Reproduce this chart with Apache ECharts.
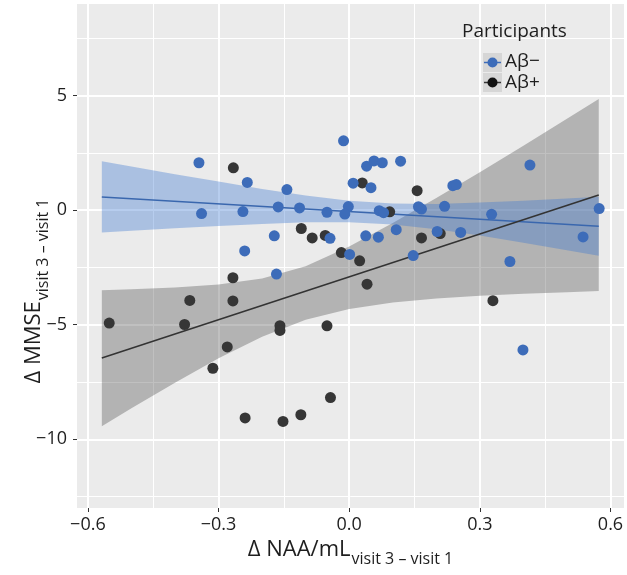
<!DOCTYPE html>
<html><head><meta charset="utf-8">
<script src="https://cdn.jsdelivr.net/npm/echarts@6/dist/echarts.min.js"></script>
<style>html,body{margin:0;padding:0;background:#fff}#c{width:627px;height:575px}</style>
</head><body><div id="c"></div>
<script>
// Aβ− participants (blue)
const negX = [-0.345,-0.339,-0.234,-0.244,-0.240,-0.172,-0.163,-0.167,-0.143,-0.114,-0.051,-0.044,-0.013,-0.002,-0.010,0.001,0.009,0.040,0.057,0.076,0.050,0.038,0.067,0.069,0.079,0.118,0.108,0.147,0.159,0.166,0.202,0.219,0.238,0.246,0.256,0.327,0.369,0.399,0.415,0.537,0.574];
const negY = [2.07,-0.15,1.21,-0.06,-1.78,-1.12,0.14,-2.79,0.90,0.10,-0.09,-1.23,3.03,0.16,-0.17,-1.93,1.18,1.92,2.15,2.07,0.98,-1.12,-1.18,-0.02,-0.11,2.14,-0.85,-1.98,0.15,0.05,-0.93,0.17,1.07,1.12,-0.97,-0.18,-2.24,-6.10,1.97,-1.17,0.07];
// Aβ+ participants (black)
const posX = [-0.551,-0.378,-0.366,-0.313,-0.280,-0.266,-0.267,-0.267,-0.239,-0.159,-0.159,-0.152,-0.110,-0.111,-0.085,-0.055,-0.051,-0.043,-0.018,0.024,0.030,0.041,0.093,0.156,0.166,0.209,0.330];
const posY = [-4.93,-4.99,-3.94,-6.90,-5.97,1.85,-2.95,-3.96,-9.07,-5.04,-5.25,-9.22,-0.80,-8.93,-1.21,-1.10,-5.05,-8.18,-1.85,-2.21,1.19,-3.23,-0.07,0.85,-1.21,-1.02,-3.95];

// fitted lines (end points) and confidence bands
const fitX = [-0.568, 0.573];
const negFitY = [0.58, -0.70];
const posFitY = [-6.45, 0.66];
const bandX = [-0.568,-0.5,-0.4,-0.3,-0.2,-0.1,0,0.1,0.2,0.3,0.4,0.5,0.573];
const negUpper = [2.14,1.91,1.57,1.25,0.93,0.64,0.41,0.29,0.27,0.33,0.41,0.51,0.59];
const negLower = [-0.97,-0.90,-0.79,-0.69,-0.60,-0.53,-0.53,-0.62,-0.83,-1.11,-1.42,-1.75,-1.99];
const posUpper = [-3.50,-3.45,-3.37,-3.24,-2.98,-2.45,-1.58,-0.56,0.53,1.66,2.81,3.99,4.85];
const posLower = [-9.43,-8.65,-7.53,-6.46,-5.52,-4.78,-4.31,-4.03,-3.86,-3.74,-3.65,-3.58,-3.53];

// ticks
const xTicks = [-0.6,-0.3,0,0.3,0.6];
const xMinor = [-0.45,-0.15,0.15,0.45];
const yTicks = [-10,-5,0,5];
const yMinor = [-12.5,-7.5,-2.5,2.5,7.5];

const legendTitle = 'Participants';
const groupNames = ['Aβ−','Aβ+'];

const FONT = '"Open Sans","Noto Sans",sans-serif';
const TXT = '#1e1e1e';
const BLUE = '#3D6CB9';
const DARK = '#363636';
const minus = s => String(s).replace('-', '\u2212');
const zip = (a,b) => a.map((v,i)=>[v,b[i]]);

function band(name, upper, lower, color, z) {
  return {
    type:'custom', name, z, silent:true, clip:true,
    data:[[0,0]], encode:{x:0,y:1},
    renderItem:(params, api) => {
      const pts = [];
      for (let i=0;i<bandX.length;i++) pts.push(api.coord([bandX[i], upper[i]]));
      for (let i=bandX.length-1;i>=0;i--) pts.push(api.coord([bandX[i], lower[i]]));
      return {type:'polygon', shape:{points:pts}, style:{fill:color}};
    }
  };
}

const XMIN=-0.625, XMAX=0.631, YMIN=-13, YMAX=9;
const chart = echarts.init(document.getElementById('c'));
chart.setOption({
  animation:false,
  grid:{left:77,right:3,top:4,bottom:67,show:true,backgroundColor:'#EBEBEB',borderWidth:0},
  xAxis:[{
    type:'value', min:XMIN, max:XMAX, position:'bottom',
    axisLine:{show:false,onZero:false},
    axisTick:{show:true,length:4,customValues:xTicks,lineStyle:{color:'#333',width:1}},
    axisLabel:{customValues:xTicks,formatter:v=>minus(v.toFixed(1)),color:TXT,fontSize:18,fontFamily:FONT,margin:8},
    splitLine:{show:true,lineStyle:{color:'#fff',width:2}},
    name:'{a|Δ NAA/mL}{b|visit 3 – visit 1}', nameLocation:'middle', nameGap:29,
    nameTextStyle:{rich:{
      a:{fontSize:22,fontFamily:FONT,color:TXT,lineHeight:27,verticalAlign:'top'},
      b:{fontSize:16,fontFamily:FONT,color:TXT,lineHeight:17,padding:[13,0,0,1],verticalAlign:'top'}
    }}
  },{
    type:'value', min:XMIN, max:XMAX, position:'bottom',
    axisLine:{show:false,onZero:false}, axisTick:{show:false,customValues:xMinor},
    axisLabel:{show:false,customValues:xMinor},
    splitLine:{show:true,lineStyle:{color:'#fff',width:1}}
  }],
  yAxis:[{
    type:'value', min:YMIN, max:YMAX, position:'left',
    axisLine:{show:false,onZero:false},
    axisTick:{show:true,length:4,customValues:yTicks,lineStyle:{color:'#333',width:1}},
    axisLabel:{customValues:yTicks,formatter:v=>minus(v),color:TXT,fontSize:18,fontFamily:FONT,margin:10},
    splitLine:{show:true,lineStyle:{color:'#fff',width:2}}
  },{
    type:'value', min:YMIN, max:YMAX, position:'left',
    axisLine:{show:false,onZero:false}, axisTick:{show:false,customValues:yMinor},
    axisLabel:{show:false,customValues:yMinor},
    splitLine:{show:true,lineStyle:{color:'#fff',width:1}}
  }],
  series:[
    band('posBand', posUpper, posLower, 'rgba(70,70,70,0.34)', 1),
    band('negBand', negUpper, negLower, 'rgba(60,120,210,0.37)', 2),
    {type:'line', data:zip(fitX,negFitY), showSymbol:false, z:3, silent:true,
     lineStyle:{color:'#3A67AE',width:1.5}},
    {type:'line', data:zip(fitX,posFitY), showSymbol:false, z:3, silent:true,
     lineStyle:{color:'#333',width:1.5}},
    {type:'scatter', name:groupNames[1], data:zip(posX,posY), symbolSize:11, z:4,
     itemStyle:{color:DARK,opacity:1}},
    {type:'scatter', name:groupNames[0], data:zip(negX,negY), symbolSize:11, z:5,
     itemStyle:{color:BLUE,opacity:1}}
  ],
  graphic:[
    {type:'text', x:36, y:291, rotation:Math.PI/2, z:10,
     style:{text:'{a|Δ MMSE}{b|visit 3 – visit 1}', align:'center', verticalAlign:'middle',
       rich:{
         a:{fontSize:22,fontFamily:FONT,fill:TXT,lineHeight:27,verticalAlign:'top'},
         b:{fontSize:16,fontFamily:FONT,fill:TXT,lineHeight:17,padding:[13,0,0,1],verticalAlign:'top'}
       }}},
    {type:'text', x:462, y:32, z:10, style:{text:legendTitle,fontSize:19,fontFamily:FONT,fill:TXT,verticalAlign:'middle'}},
    {type:'rect', x:483, y:53, z:10, shape:{width:19,height:19}, style:{fill:'#D6D6D6'}},
    {type:'rect', x:483, y:73, z:10, shape:{width:19,height:19}, style:{fill:'#D6D6D6'}},
    {type:'line', z:11, shape:{x1:484,y1:62.5,x2:501,y2:62.5}, style:{stroke:BLUE,lineWidth:1.5}},
    {type:'circle', z:12, shape:{cx:492.5,cy:62.5,r:5}, style:{fill:BLUE}},
    {type:'line', z:11, shape:{x1:484,y1:82.5,x2:501,y2:82.5}, style:{stroke:DARK,lineWidth:1.5}},
    {type:'circle', z:12, shape:{cx:492.5,cy:82.5,r:5}, style:{fill:'#111'}},
    {type:'text', x:505, y:62, z:10, style:{text:groupNames[0],fontSize:19,fontFamily:FONT,fill:TXT,verticalAlign:'middle'}},
    {type:'text', x:505, y:83, z:10, style:{text:groupNames[1],fontSize:19,fontFamily:FONT,fill:TXT,verticalAlign:'middle'}}
  ]
});
</script></body></html>
